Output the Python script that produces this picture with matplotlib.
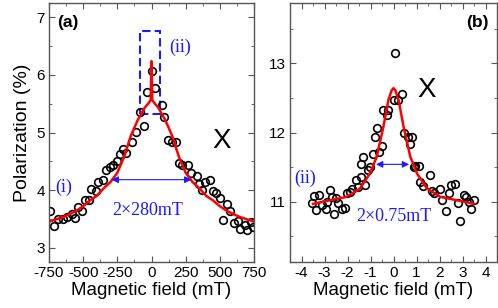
import matplotlib
matplotlib.use("Agg")
import matplotlib.pyplot as plt
from matplotlib.patches import Rectangle
from matplotlib.ticker import MultipleLocator

plt.rcParams['font.family'] = ['Liberation Sans', 'DejaVu Sans']

# ---- Panel (a) data ----
a_field = [-740, -715, -685, -650, -615, -580, -560, -535, -505, -485, -455, -440,
           -405, -390, -355, -335, -305, -280, -255, -230, -210, -185, -140, -110,
           -85, -55, -35, 0, 25, 75, 95, 120, 150, 180, 200, 225, 270, 292, 330,
           350, 370, 390, 425, 450, 475, 500, 525, 550, 575, 600, 630, 648, 682,
           700, 730, 745]
a_pol = [3.63, 3.38, 3.50, 3.50, 3.54, 3.59, 3.52, 3.71, 3.64, 3.83, 3.82, 4.02,
         3.99, 4.14, 4.17, 4.34, 4.40, 4.44, 4.51, 4.62, 4.72, 4.64, 4.83, 5.01,
         5.35, 5.12, 5.70, 6.07, 5.78, 5.47, 5.27, 4.87, 4.83, 4.83, 4.47, 4.44,
         4.44, 4.30, 4.25, 4.10, 4.00, 4.14, 4.17, 3.99, 3.95, 3.87, 3.48, 3.75,
         3.64, 3.43, 3.47, 3.32, 3.40, 3.30, 3.44, 3.35]

a_fit_field = [-750, -700, -650, -600, -550, -500, -450, -400, -350, -300, -250,
               -200, -150, -100, -50, -25, -6, 0, 6, 25, 50, 100, 150, 200, 250,
               300, 350, 400, 450, 500, 550, 600, 650, 700, 750]
a_fit_pol = [3.45, 3.49, 3.53, 3.58, 3.64, 3.72, 3.82, 3.90, 4.03, 4.14, 4.30,
             4.58, 4.95, 5.22, 5.43, 5.50, 5.56, 6.24, 5.56, 5.50, 5.43, 5.22,
             4.95, 4.58, 4.30, 4.14, 4.03, 3.90, 3.82, 3.72, 3.64, 3.58, 3.53,
             3.49, 3.45]

# ---- Panel (b) data ----
b_field = [-3.56, -3.45, -3.35, -3.23, -3.13, -2.95, -2.91, -2.76, -2.69, -2.58,
           -2.50, -2.40, -2.23, -2.11, -2.04, -1.89, -1.82, -1.64, -1.53, -1.41,
           -1.42, -1.31, -1.24, -1.09, -1.02, -0.90, -0.80, -0.70, -0.61, -0.51,
           -0.44, -0.29, -0.22, 0.00, 0.07, 0.18, 0.37, 0.47, 0.61, 0.70, 0.80,
           0.87, 0.95, 1.09, 1.14, 1.28, 1.60, 1.68, 1.78, 2.01, 2.11, 2.30, 2.40,
           2.50, 2.69, 2.80, 2.88, 3.06, 3.17, 3.28, 3.38, 3.52]
b_pol = [10.98, 11.08, 10.88, 11.10, 10.95, 10.89, 11.00, 11.17, 11.07, 10.83,
         11.05, 10.98, 10.89, 10.91, 11.13, 11.14, 11.19, 11.32, 11.22, 11.36,
         11.54, 11.64, 11.24, 11.46, 11.50, 11.69, 11.93, 12.06, 11.72, 11.80,
         12.33, 12.25, 12.32, 12.47, 13.15, 12.47, 12.56, 12.00, 11.93, 11.83,
         11.93, 11.50, 11.51, 11.51, 11.29, 11.23, 11.39, 11.16, 11.13, 11.19,
         11.02, 10.87, 11.13, 11.24, 11.26, 10.98, 10.72, 11.10, 11.07, 11.00,
         10.89, 11.03]

b_fit_field = [-3.5, -2.77, -2.04, -1.46, -1.02, -0.73, -0.44, -0.22, -0.08, 0.0,
               0.08, 0.22, 0.44, 0.73, 1.02, 1.46, 2.04, 2.77, 3.5]
b_fit_pol = [10.97, 11.02, 11.07, 11.19, 11.41, 11.65, 12.08, 12.47, 12.61, 12.64,
             12.61, 12.47, 12.08, 11.65, 11.41, 11.19, 11.07, 11.02, 10.97]

a_xticks = [-750, -500, -250, 0, 250, 500, 750]
a_yticks = [3, 4, 5, 6, 7]
b_xticks = [-4, -3, -2, -1, 0, 1, 2, 3, 4]
b_yticks = [11, 12, 13]

BLUE = '#1a1aff'
SPINE = '#555555'

fig = plt.figure(figsize=(4.98, 3.08), dpi=100)
ax1 = fig.add_axes([49/498, 46/308, 205/498, 259/308])
ax2 = fig.add_axes([290/498, 46/308, 207/498, 259/308])

for ax in (ax1, ax2):
    for s in ax.spines.values():
        s.set_color(SPINE)
        s.set_linewidth(1.0)
    ax.tick_params(which='both', direction='in', top=True, right=True,
                   color=SPINE, labelsize=11, pad=3)
    ax.tick_params(which='major', length=4)
    ax.tick_params(which='minor', length=2)
    ax.set_xlabel('Magnetic field (mT)', fontsize=13.5, labelpad=1)

# Panel (a)
ax1.plot(a_field, a_pol, 'o', ms=5.5, mfc='none', mec='black', mew=1.2)
ax1.plot(a_fit_field, a_fit_pol, '-', color='red', lw=1.8)
ax1.set_xlim(-750, 750)
ax1.set_ylim(2.75, 7.25)
ax1.set_xticks(a_xticks)
ax1.set_xticklabels([str(t) for t in a_xticks])
ax1.set_yticks(a_yticks)
ax1.xaxis.set_minor_locator(MultipleLocator(125))
ax1.yaxis.set_minor_locator(MultipleLocator(0.5))
ax1.set_ylabel('Polarization (%)', fontsize=14, labelpad=4)
ax1.text(0.04, 0.955, '(a)', transform=ax1.transAxes, fontsize=12.5,
         fontweight='bold', va='top', ha='left')
ax1.add_patch(Rectangle((-85, 5.33), 145, 1.43, fill=False, ec=BLUE, lw=1.5,
                        ls=(0, (4, 2))))
ax1.text(130, 6.48, '(ii)', color=BLUE, fontsize=13, family='Liberation Serif',
         ha='left', va='center')
ax1.text(-645, 4.05, '(i)', color=BLUE, fontsize=13, family='Liberation Serif',
         ha='center', va='center')
ax1.text(-25, 3.64, '2×280mT', color=BLUE, fontsize=13, family='Liberation Serif',
         ha='center', va='center')
ax1.annotate('', xy=(-292, 4.18), xytext=(292, 4.18),
             arrowprops=dict(arrowstyle='<|-|>', color=BLUE, lw=0.8,
                             mutation_scale=10, shrinkA=0, shrinkB=0))
ax1.text(511, 4.86, 'X', fontsize=20, ha='center', va='center')

# Panel (b)
ax2.plot(b_field, b_pol, 'o', ms=5.5, mfc='none', mec='black', mew=1.2)
ax2.plot(b_fit_field, b_fit_pol, '-', color='red', lw=1.8)
ax2.set_xlim(-4.5, 4.5)
ax2.set_ylim(10.13, 13.87)
ax2.set_xticks(b_xticks)
ax2.set_xticklabels([str(t) for t in b_xticks])
ax2.set_yticks(b_yticks)
ax2.xaxis.set_minor_locator(MultipleLocator(0.5))
ax2.yaxis.set_minor_locator(MultipleLocator(0.5))
ax2.text(0.96, 0.955, '(b)', transform=ax2.transAxes, fontsize=12.5,
         fontweight='bold', va='top', ha='right')
ax2.text(-3.86, 11.34, '(ii)', color=BLUE, fontsize=13, family='Liberation Serif',
         ha='center', va='center')
ax2.text(0.0, 10.78, '2×0.75mT', color=BLUE, fontsize=13, family='Liberation Serif',
         ha='center', va='center')
ax2.annotate('', xy=(-0.76, 11.54), xytext=(0.68, 11.54),
             arrowprops=dict(arrowstyle='<|-|>', color=BLUE, lw=0.8,
                             mutation_scale=10, shrinkA=0, shrinkB=0))
ax2.text(1.46, 12.61, 'X', fontsize=20, ha='center', va='center')

fig.savefig('out.png', dpi=100)
